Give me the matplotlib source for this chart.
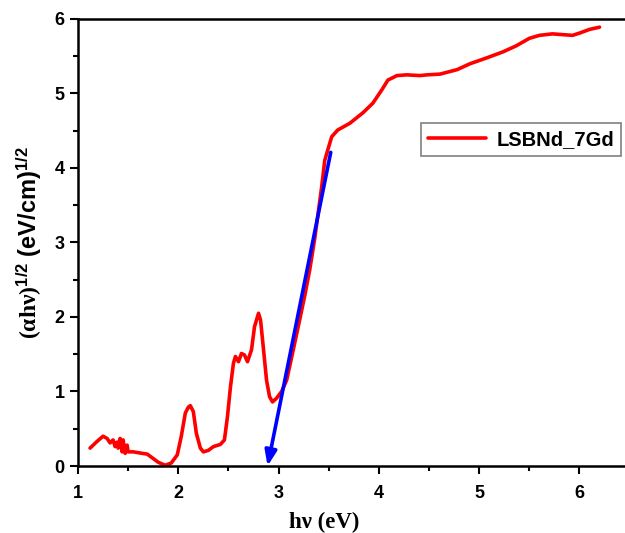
import matplotlib
matplotlib.use('Agg')
import matplotlib.pyplot as plt
from matplotlib.ticker import MultipleLocator

plt.rcParams['font.family'] = ['Liberation Sans', 'DejaVu Sans']
plt.rcParams['mathtext.fontset'] = 'custom'
plt.rcParams['mathtext.rm'] = 'Liberation Serif:bold'
plt.rcParams['mathtext.it'] = 'Liberation Serif:bold'
plt.rcParams['mathtext.sf'] = 'Liberation Sans:bold'

# data
energy = [1.12, 1.19, 1.25, 1.29, 1.32, 1.35, 1.37, 1.39, 1.40, 1.42, 1.44, 1.45,
          1.47, 1.49, 1.50, 1.55, 1.64, 1.69, 1.74, 1.80, 1.87, 1.93, 1.99, 2.03,
          2.07, 2.10, 2.12, 2.15, 2.18, 2.22, 2.25, 2.30, 2.35, 2.42, 2.46, 2.49,
          2.52, 2.55, 2.57, 2.60, 2.63, 2.66, 2.69, 2.73, 2.76, 2.80, 2.82, 2.85,
          2.88, 2.91, 2.94, 2.98, 3.03, 3.08, 3.14, 3.21, 3.26, 3.31, 3.36, 3.43,
          3.46, 3.49, 3.53, 3.59, 3.71, 3.84, 3.94, 4.03, 4.09, 4.18, 4.28, 4.41,
          4.48, 4.61, 4.78, 4.91, 5.08, 5.24, 5.37, 5.50, 5.60, 5.73, 5.93, 6.00,
          6.10, 6.20]
absorb = [0.24, 0.33, 0.40, 0.37, 0.31, 0.35, 0.26, 0.32, 0.24, 0.37, 0.19, 0.35,
          0.17, 0.28, 0.19, 0.19, 0.17, 0.16, 0.11, 0.05, 0.01, 0.04, 0.15, 0.40,
          0.71, 0.79, 0.81, 0.73, 0.44, 0.24, 0.19, 0.21, 0.26, 0.29, 0.35, 0.66,
          1.06, 1.38, 1.47, 1.40, 1.51, 1.49, 1.40, 1.56, 1.87, 2.05, 1.96, 1.56,
          1.15, 0.93, 0.86, 0.91, 1.00, 1.15, 1.52, 1.96, 2.28, 2.63, 3.05, 3.75,
          4.10, 4.24, 4.42, 4.51, 4.60, 4.74, 4.87, 5.05, 5.18, 5.24, 5.25, 5.24,
          5.25, 5.26, 5.32, 5.40, 5.48, 5.56, 5.64, 5.74, 5.78, 5.80, 5.78, 5.81,
          5.86, 5.89]

# Tauc fit line (start -> intercept on the energy axis)
fit_x = [3.52, 2.89]
fit_y = [4.21, 0.0]

fig = plt.figure(figsize=(6.25, 5.33), dpi=100)
ax = fig.add_axes([0.1248, 0.1257, 0.8752, 0.8387])

ax.plot(energy, absorb, color='red', lw=2.6, label='LSBNd_7Gd',
        solid_joinstyle='round', solid_capstyle='round')
ax.annotate('', xy=(fit_x[1], fit_y[1]), xytext=(fit_x[0], fit_y[0]),
            arrowprops=dict(arrowstyle='-|>,head_length=0.9,head_width=0.35',
                            color='blue', lw=2.6, shrinkA=0, shrinkB=0))

ax.set_xlim(1, 6.454)
ax.set_ylim(0, 6)
ax.xaxis.set_major_locator(MultipleLocator(1))
ax.xaxis.set_minor_locator(MultipleLocator(0.5))
ax.yaxis.set_major_locator(MultipleLocator(1))
ax.yaxis.set_minor_locator(MultipleLocator(0.5))
ax.tick_params(which='major', direction='out', length=6, width=1.5,
               labelsize=13, top=False, right=False)
ax.tick_params(axis='x', which='major', pad=8)
ax.tick_params(which='minor', direction='out', length=3.5, width=1.5,
               top=False, right=False)
for lab in ax.get_xticklabels() + ax.get_yticklabels():
    lab.set_fontweight('bold')
for side in ['left', 'bottom', 'top']:
    ax.spines[side].set_linewidth(1.8)
ax.spines['right'].set_visible(False)

ax.set_xlabel('h\u03bd (eV)', fontsize=16.5, fontweight='bold',
              family='Liberation Serif')
ax.xaxis.set_label_coords(0.45, -0.103)
ax.set_ylabel(r'$\mathrm{(\alpha h\nu)}^{\mathsf{1/2}}$ (eV/cm)$^{\mathsf{1/2}}$',
              fontsize=17, fontweight='bold', labelpad=8)

leg = ax.legend(loc='upper right', bbox_to_anchor=(0.9927, 0.767),
                prop={'weight': 'bold', 'size': 14.5}, fancybox=False,
                handlelength=2.9, handletextpad=0.5, borderpad=0.35,
                borderaxespad=0, framealpha=1)
leg.get_frame().set_edgecolor('gray')
leg.get_frame().set_linewidth(1.2)

plt.savefig('out.png', dpi=100)
